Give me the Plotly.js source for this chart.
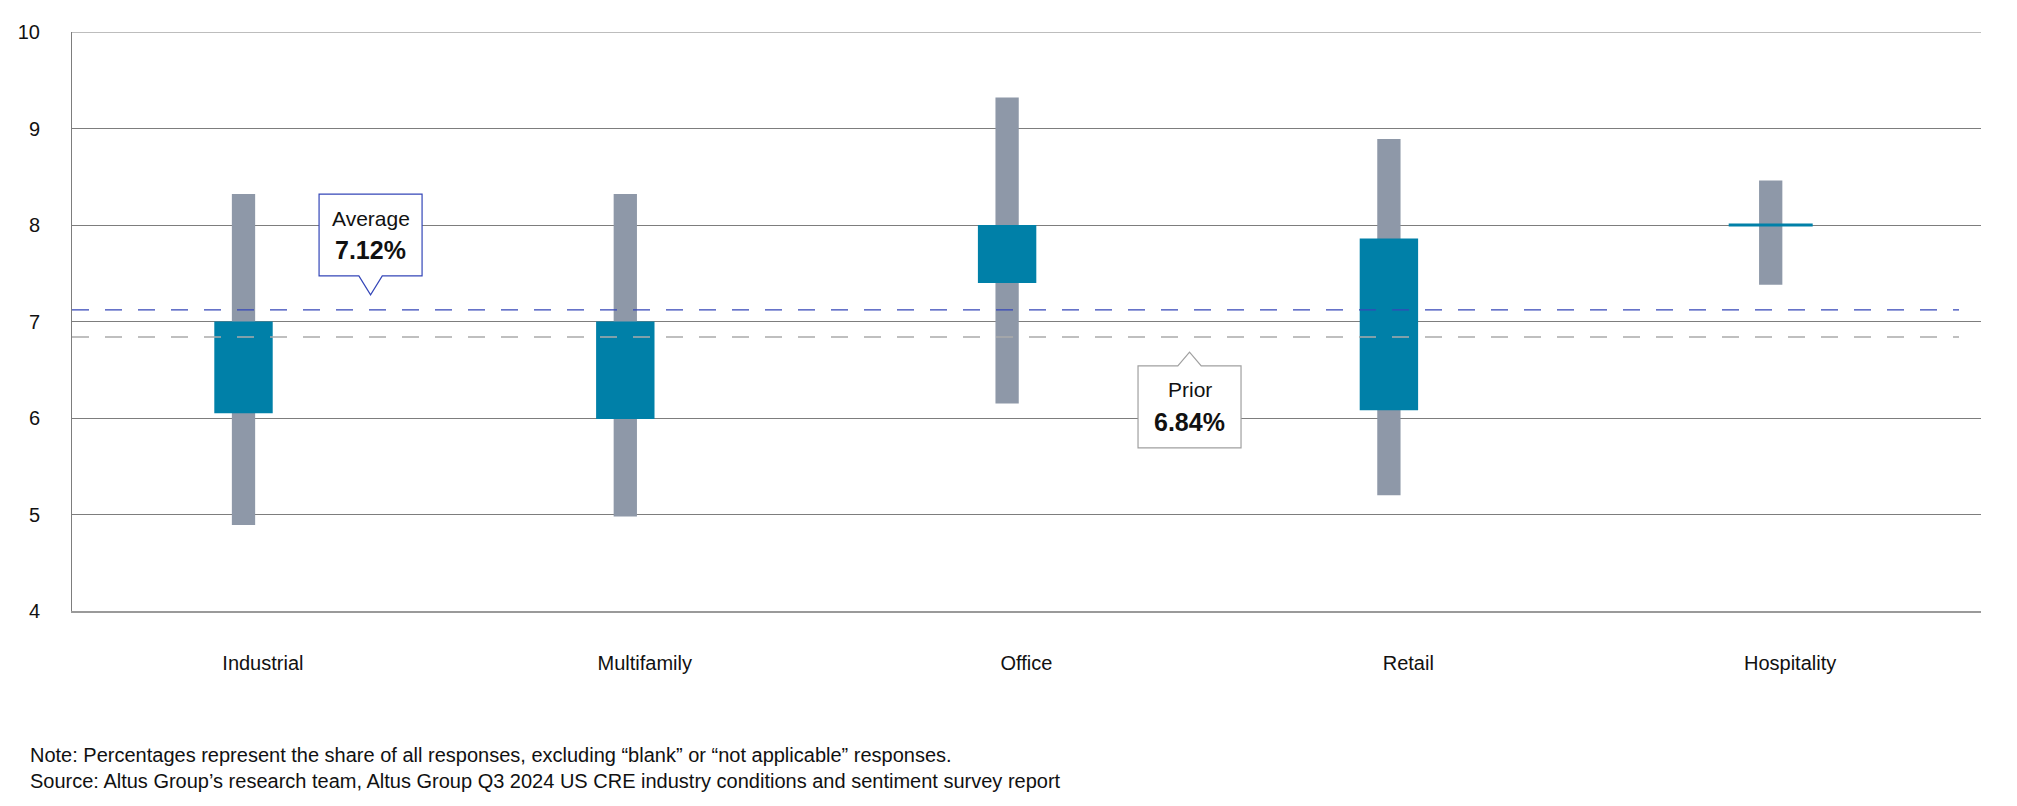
<!DOCTYPE html>
<html>
<head>
<meta charset="utf-8">
<script src="https://cdn.plot.ly/plotly-3.0.1.min.js"></script>
<style>
  html, body { margin: 0; padding: 0; background: #ffffff; }
  #chart { width: 2017px; height: 806px; }
</style>
</head>
<body>
<div id="chart"></div>
<script>
// ---- Data ----
const categories = ["Industrial", "Multifamily", "Office", "Retail", "Hospitality"];
const rangeLow   = [4.89, 4.98, 6.15, 5.20, 7.38];   // gray bar bottom
const rangeHigh  = [8.32, 8.32, 9.32, 8.89, 8.46];   // gray bar top
const boxLow     = [6.05, 5.99, 7.40, 6.08, 8.00];   // teal box bottom
const boxHigh    = [7.00, 7.00, 8.00, 7.86, 8.00];   // teal box top
const averageValue = 7.12;
const priorValue   = 6.84;
const yTicks = [4, 5, 6, 7, 8, 9, 10];
const noteText = "Note: Percentages represent the share of all responses, excluding \u201cblank\u201d or \u201cnot applicable\u201d responses.";
const sourceText = "Source: Altus Group\u2019s research team, Altus Group Q3 2024 US CRE industry conditions and sentiment survey report";

// ---- Styling ----
const FONT = "Liberation Sans, Arial, sans-serif";
const GRAY = "#8e98a8";
const TEAL = "#0080a8";
const AVG_BLUE = "#3446b8";
const PRIOR_GRAY = "#ababab";
const GRID = "#7d7d7d";

// split boxes with zero height (drawn as a line) from boxes with height
const boxX = [], boxBase = [], boxH = [];
const lineX = [], lineY = [];
categories.forEach((c, i) => {
  const h = boxHigh[i] - boxLow[i];
  if (h > 0) { boxX.push(c); boxBase.push(boxLow[i]); boxH.push(h); }
  else { lineX.push(c); lineY.push(boxLow[i]); }
});

const traces = [
  {
    type: "bar", xaxis: "x2", yaxis: "y",
    x: categories,
    base: rangeLow,
    y: rangeHigh.map((v, i) => v - rangeLow[i]),
    width: 0.061,
    marker: { color: GRAY, line: { width: 0 } },
    hoverinfo: "skip", showlegend: false
  },
  {
    type: "bar", xaxis: "x2", yaxis: "y",
    x: boxX,
    base: boxBase,
    y: boxH,
    width: 0.153,
    marker: { color: TEAL, line: { width: 0 } },
    hoverinfo: "skip", showlegend: false
  },
  {
    type: "scatter", mode: "markers", xaxis: "x2", yaxis: "y",
    x: lineX, y: lineY,
    marker: { symbol: "line-ew", size: 60, line: { width: 3, color: TEAL } },
    hoverinfo: "skip", showlegend: false
  }
];

const plotW = 2017 - 72 - 36;
const avgTipX = 0.282;
const priorTipX = 2.427;
const yMax = yTicks[yTicks.length - 1];

const layout = {
  width: 2017, height: 806,
  margin: { l: 72, r: 36, t: 32, b: 195 },
  paper_bgcolor: "#ffffff", plot_bgcolor: "#ffffff",
  font: { family: FONT, size: 20, color: "#111111" },
  barmode: "overlay",
  showlegend: false,
  xaxis: {
    type: "linear",
    range: [-0.5, 4.5],
    tickmode: "array",
    tickvals: categories.map((c, i) => i),
    ticktext: categories,
    ticks: "outside", ticklen: 33, tickcolor: "rgba(0,0,0,0)",
    tickfont: { family: FONT, size: 20, color: "#111111" },
    showgrid: false, zeroline: false,
    showline: true, linecolor: "#9a9a9a", linewidth: 2,
    fixedrange: true
  },
  xaxis2: {
    type: "category",
    categoryorder: "array", categoryarray: categories,
    overlaying: "x",
    range: [-0.4492, 4.5508],
    visible: false,
    fixedrange: true
  },
  yaxis: {
    range: [yTicks[0], yMax],
    tickmode: "array", tickvals: yTicks,
    ticks: "outside", ticklen: 27, tickcolor: "rgba(0,0,0,0)",
    tickfont: { family: FONT, size: 20, color: "#111111" },
    showgrid: true, gridcolor: GRID, gridwidth: 1,
    zeroline: false,
    showline: true, linecolor: GRID, linewidth: 1,
    fixedrange: true
  },
  shapes: [
    // top gridline (at the edge of the range)
    { type: "line", xref: "paper", yref: "y", x0: 0, x1: 1, y0: yMax, y1: yMax,
      layer: "below", line: { color: GRID, width: 1 } },
    // average line
    { type: "line", xref: "paper", yref: "y", x0: 0, x1: (1959 - 72) / plotW,
      y0: averageValue, y1: averageValue, layer: "above",
      line: { color: AVG_BLUE, width: 1.3, dash: "17px,16px" } },
    // prior line
    { type: "line", xref: "paper", yref: "y", x0: 0, x1: (1959 - 72) / plotW,
      y0: priorValue, y1: priorValue, layer: "above",
      line: { color: PRIOR_GRAY, width: 1.6, dash: "17px,16px" } },
    // average callout bubble
    { type: "path", xref: "x", yref: "y", xsizemode: "pixel", ysizemode: "pixel",
      xanchor: avgTipX, yanchor: averageValue, layer: "above",
      path: "M -51.5 115.8 L 51.5 115.8 L 51.5 34.1 L 11.7 34.1 L 0 15.1 L -11.7 34.1 L -51.5 34.1 Z",
      fillcolor: "#ffffff", line: { color: AVG_BLUE, width: 1.2 } },
    // prior callout bubble
    { type: "path", xref: "x", yref: "y", xsizemode: "pixel", ysizemode: "pixel",
      xanchor: priorTipX, yanchor: priorValue, layer: "above",
      path: "M -51.5 -28.9 L -11.7 -28.9 L 0 -15.2 L 11.7 -28.9 L 51.5 -28.9 L 51.5 -110.9 L -51.5 -110.9 Z",
      fillcolor: "#ffffff", line: { color: "#a0a0a0", width: 1.2 } }
  ],
  annotations: [
    { xref: "x", yref: "y", x: avgTipX, y: averageValue, yshift: 91,
      text: "Average", showarrow: false, xanchor: "center", yanchor: "middle",
      font: { family: FONT, size: 21, color: "#111111" } },
    { xref: "x", yref: "y", x: avgTipX, y: averageValue, yshift: 60,
      text: "<b>" + averageValue.toFixed(2) + "%</b>", showarrow: false, xanchor: "center", yanchor: "middle",
      font: { family: FONT, size: 25, color: "#111111" } },
    { xref: "x", yref: "y", x: priorTipX, y: priorValue, yshift: -52.9,
      text: "Prior", showarrow: false, xanchor: "center", yanchor: "middle",
      font: { family: FONT, size: 21, color: "#111111" } },
    { xref: "x", yref: "y", x: priorTipX, y: priorValue, yshift: -84.6,
      text: "<b>" + priorValue.toFixed(2) + "%</b>", showarrow: false, xanchor: "center", yanchor: "middle",
      font: { family: FONT, size: 25, color: "#111111" } },
    { xref: "paper", yref: "paper", x: -(72 - 28) / plotW, y: -(767.5 - 611) / 579,
      text: noteText + "<br>" + sourceText, showarrow: false,
      xanchor: "left", yanchor: "middle", align: "left",
      font: { family: FONT, size: 20, color: "#111111" } }
  ]
};

Plotly.newPlot("chart", traces, layout, { displayModeBar: false, staticPlot: true });
</script>
</body>
</html>
